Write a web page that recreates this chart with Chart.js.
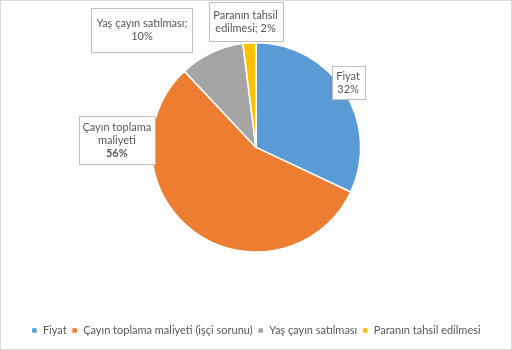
<!DOCTYPE html>
<html>
<head>
<meta charset="utf-8">
<script src="https://cdn.jsdelivr.net/npm/chart.js@4/dist/chart.umd.min.js"></script>
<style>
    html, body { margin: 0; padding: 0; background: #fff; }
    #wrap { width: 512px; height: 350px; box-sizing: border-box; border: 1px solid #d9d9d9; }
</style>
</head>
<body>
<div id="wrap"><canvas id="chart"></canvas></div>
<script>
// veriler
const categories = ['Fiyat', 'Çayın toplama maliyeti (işçi sorunu)', 'Yaş çayın satılması', 'Paranın tahsil edilmesi'];
const shares = [32, 56, 10, 2];
const colors = ['#5b9bd5', '#ed7d31', '#a5a5a5', '#ffc000'];
// etiket metinleri, {v} yerine yüzde gelir
const labelTexts = ['Fiyat\n{v}', 'Çayın toplama\nmaliyeti\n{v}', 'Yaş çayın satılması;\n{v}', 'Paranın tahsil\nedilmesi; {v}'];

// etiket kutularının merkezi (pasta yarıçapı cinsinden) ve boyutları
const labelBoxes = [
    { dx: 0.88, dy: -0.62, w: 33, h: 33 },
    { dx: -1.33, dy: -0.07, w: 76, h: 48, boldValue: true },
    { dx: -1.09, dy: -1.12, w: 101, h: 44 },
    { dx: -0.10, dy: -1.20, w: 74, h: 39 }
];

const FONT = 'Lato, "Open Sans", sans-serif';

// kutulu veri etiketleri
const calloutPlugin = {
    id: 'callouts',
    afterDatasetsDraw(chart) {
        const ctx = chart.ctx;
        const arcs = chart.getDatasetMeta(0).data;
        if (!arcs.length) return;
        const cx = arcs[0].x, cy = arcs[0].y, r = arcs[0].outerRadius;
        ctx.save();
        labelBoxes.forEach((b, i) => {
            const x = cx + b.dx * r, y = cy + b.dy * r;
            ctx.fillStyle = '#fff';
            ctx.strokeStyle = '#bfbfbf';
            ctx.lineWidth = 1;
            const left = Math.round(x - b.w / 2) + 0.5, top = Math.round(y - b.h / 2) + 0.5;
            ctx.fillRect(left, top, b.w, b.h);
            ctx.strokeRect(left, top, b.w, b.h);
            const lines = labelTexts[i].split('\n');
            const lh = 13;
            ctx.fillStyle = '#595959';
            ctx.textAlign = 'center';
            ctx.textBaseline = 'middle';
            lines.forEach((ln, j) => {
                const isVal = ln === '{v}';
                ctx.font = (isVal && b.boldValue ? 'bold ' : '') + '11px ' + FONT;
                const txt = ln.replace('{v}', shares[i] + '%');
                ctx.fillText(txt, x, y + (j - (lines.length - 1) / 2) * lh);
            });
        });
        ctx.restore();
    }
};

const ctx = document.getElementById('chart').getContext('2d');
new Chart(ctx, {
    type: 'pie',
    data: {
        labels: categories,
        datasets: [{
            data: shares,
            backgroundColor: colors,
            borderColor: '#ffffff',
            borderWidth: 1.5
        }]
    },
    options: {
        responsive: true,
        maintainAspectRatio: false,
        animation: false,
        layout: { padding: { top: 41, bottom: 3, left: 0, right: 0 } },
        plugins: {
            tooltip: { enabled: false },
            legend: {
                position: 'bottom',
                // boş başlık, pasta ile lejant arasındaki boşluk için
                title: { display: true, text: ' ', font: { size: 11 }, padding: { top: 0, bottom: 54 } },
                labels: {
                    boxWidth: 6,
                    boxHeight: 6,
                    padding: 5,
                    color: '#595959',
                    font: { family: FONT, size: 11 }
                }
            }
        }
    },
    plugins: [calloutPlugin]
});
</script>
</body>
</html>
